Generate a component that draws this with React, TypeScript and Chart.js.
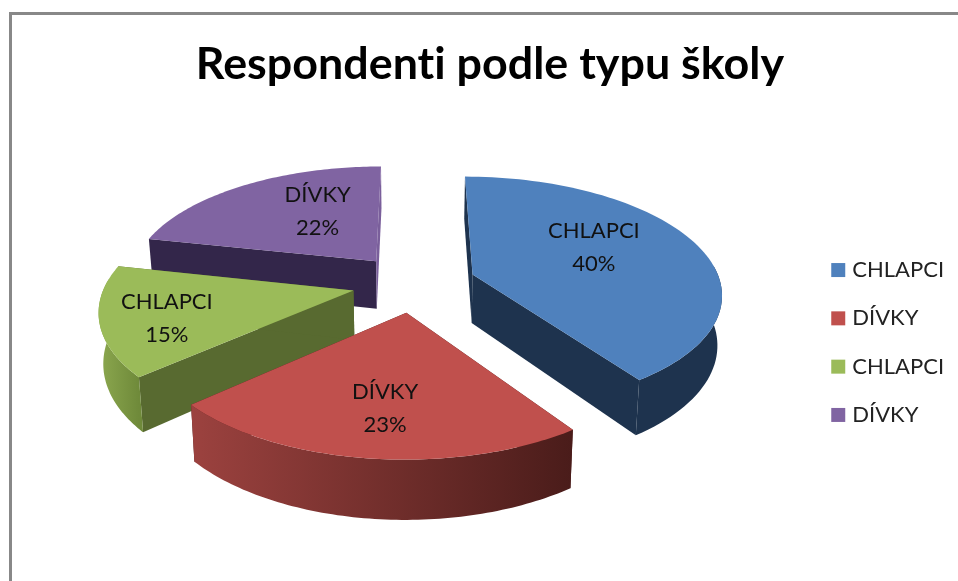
import React, { useEffect, useRef } from "react";
import { Chart, registerables } from "chart.js";

Chart.register(...registerables);

const categories = ["CHLAPCI", "DÍVKY", "CHLAPCI", "DÍVKY"];
const shares = [40.4, 23, 15, 21.6];
const topColors = ["#4F81BD", "#C0504D", "#9BBB59", "#8064A2"];
const cutColors = ["#1E334E", "#4A1C1A", "#586A30", "#33264A"];
const endFaceColors = ["#1E334E", "#4A1C1A", "#586A30", "#7A5F9B"];
const rimLeftColors = ["#1E334E", "#9C423F", "#8CA84F", "#33264A"];
const rimRightColors = ["#1E334E", "#4A1C1A", "#6F8A3A", "#33264A"];
const chartTitle = "Respondenti podle typu školy";

const view = { cx: 414, cy: 283, rx: 248, ry: 115, k: 0.15, depth: 49, explode: 0.25, shrink: 0.015 };
const labelNudge = [[8, -11], [-4, 29], [-62, 12], [11, -10]];
const LABEL_FONT = "22px Lato";

function project(u: number, v: number, z: number) {
  const s = 1 / (1 - view.k * v);
  return {
    x: view.cx + view.rx * u * s * (1 - view.shrink * z),
    y: view.cy + view.ry * v * s + z * view.depth * s,
  };
}

const pie3d = {
  id: "pie3d",
  beforeDraw(chart: any) {
    chart.ctx.letterSpacing = "0.01px";
  },
  beforeDatasetDraw() {
    return false;
  },
  afterDatasetsDraw(chart: any) {
    const ctx = chart.ctx;
    const arcs = chart.getDatasetMeta(0).data;
    const slices = arcs.map((arc: any, i: number) => {
      const mid = (arc.startAngle + arc.endAngle) / 2;
      const u0 = view.explode * Math.cos(mid);
      const v0 = view.explode * Math.sin(mid);
      const rimAt = (a: number, z: number) => project(u0 + Math.cos(a), v0 + Math.sin(a), z);
      const n = 80;
      const angles: number[] = [];
      for (let j = 0; j <= n; j++) angles.push(arc.startAngle + ((arc.endAngle - arc.startAngle) * j) / n);
      return { i, mid, u0, v0, rimAt, angles };
    });
    const poly = (pts: { x: number; y: number }[], fill: any) => {
      ctx.beginPath();
      pts.forEach((p, j) => (j ? ctx.lineTo(p.x, p.y) : ctx.moveTo(p.x, p.y)));
      ctx.closePath();
      ctx.fillStyle = fill;
      ctx.fill();
    };
    [...slices]
      .sort((a: any, b: any) => a.v0 - b.v0)
      .forEach((s: any) => {
        const apexTop = project(s.u0, s.v0, 0);
        const apexBot = project(s.u0, s.v0, 1);
        const first = s.angles[0];
        const last = s.angles[s.angles.length - 1];
        poly([apexTop, apexBot, s.rimAt(first, 1), s.rimAt(first, 0)], cutColors[s.i]);
        poly([apexTop, apexBot, s.rimAt(last, 1), s.rimAt(last, 0)], endFaceColors[s.i]);
        const topPts = s.angles.map((a: number) => s.rimAt(a, 0));
        const xs = topPts.map((p: any) => p.x);
        const grad = ctx.createLinearGradient(Math.min(...xs), 0, Math.max(...xs), 0);
        grad.addColorStop(0, rimLeftColors[s.i]);
        grad.addColorStop(1, rimRightColors[s.i]);
        const front = s.angles.filter((a: number) => Math.sin(a) > -0.1);
        if (front.length > 1) {
          const upper = front.map((a: number) => s.rimAt(a, 0));
          const lower = front.map((a: number) => s.rimAt(a, 1)).reverse();
          poly([...upper, ...lower], grad);
        }
        poly([apexTop, ...topPts], topColors[s.i]);
      });
    ctx.save();
    ctx.font = LABEL_FONT;
    ctx.fillStyle = "#111";
    ctx.textAlign = "center";
    ctx.textBaseline = "middle";
    slices.forEach((s: any) => {
      const p = project(s.u0 + 0.5 * Math.cos(s.mid), s.v0 + 0.5 * Math.sin(s.mid), 0);
      const x = p.x + labelNudge[s.i][0];
      const y = p.y + labelNudge[s.i][1];
      ctx.fillText(categories[s.i], x, y - 16);
      ctx.fillText(Math.round(shares[s.i]) + "%", x, y + 17);
    });
    ctx.restore();
  },
};

export default function App() {
  const ref = useRef<HTMLCanvasElement>(null);
  useEffect(() => {
    const chart = new Chart(ref.current as HTMLCanvasElement, {
      type: "pie",
      data: {
        labels: categories,
        datasets: [{ data: shares, backgroundColor: topColors, borderColor: topColors, borderWidth: 8 }],
      },
      options: {
        responsive: false,
        animation: false,
        events: [],
        layout: { padding: { left: 26, right: 4, top: 0, bottom: -104 } },
        plugins: {
          tooltip: { enabled: false },
          title: {
            display: true,
            text: chartTitle,
            color: "#000",
            font: { family: "Lato", size: 44.8, weight: "bold" },
            padding: { top: 38, bottom: 20 },
          },
          legend: {
            position: "right",
            labels: {
              boxWidth: 6,
              boxHeight: 6,
              padding: 26.3,
              color: "#222",
              font: { family: "Lato", size: 22 },
            },
          },
        },
      },
      plugins: [pie3d],
    } as any);
    return () => chart.destroy();
  }, []);
  return (
    <div style={{ position: "fixed", left: 0, top: 0, width: 958, height: 581, overflow: "hidden", background: "#fff" }}>
      <div style={{ position: "absolute", left: 9, top: 12, width: 960, height: 580, borderLeft: "3px solid #888", borderTop: "3px solid #888" }} />
      <canvas ref={ref} width={958} height={581} style={{ position: "absolute", left: 0, top: 0 }} />
    </div>
  );
}
